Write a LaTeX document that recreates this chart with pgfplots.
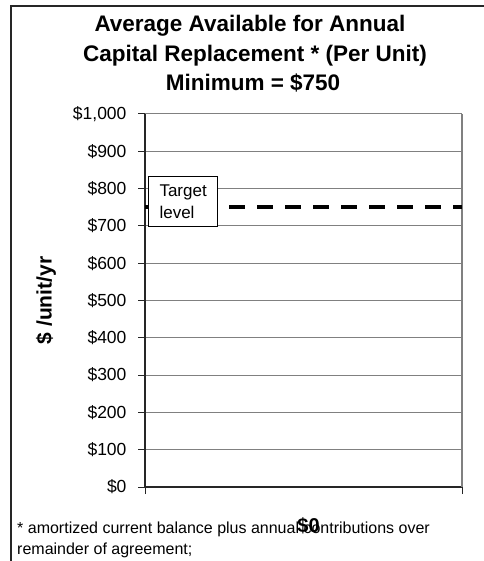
\documentclass[border=0pt]{standalone}
\usepackage{fontspec}
\setmainfont{Liberation Sans}
\usepackage{pgfplots}
\pgfplotsset{compat=1.18}
\begin{document}
\begin{tikzpicture}
\useasboundingbox (0,0) rectangle (483pt,-561pt);
% outer chart frame (top and left edges visible)
\draw[line width=1.5pt, black!85] (11pt,-600pt) -- (11pt,-6pt) -- (520pt,-6pt);
% title
\node[anchor=base, font=\fontsize{22.5}{26}\selectfont\bfseries] at (250pt,-32pt) {Average Available for Annual};
\node[anchor=base, font=\fontsize{22.5}{26}\selectfont\bfseries] at (255pt,-62pt) {Capital Replacement * (Per Unit)};
\node[anchor=base, font=\fontsize{22.5}{26}\selectfont\bfseries] at (253pt,-91pt) {Minimum = \$750};
\begin{axis}[
  at={(145pt,-487pt)}, anchor=south west,
  scale only axis, width=317pt, height=373pt,
  xmin=-0.5, xmax=0.5, ymin=0, ymax=1000,
  /pgf/number format/assume math mode=true,
  ytick={0,100,...,1000},
  yticklabels={\$0,\$100,\$200,\$300,\$400,\$500,\$600,\$700,\$800,\$900,{\$1,000}},
  xtick={-0.5,0.5}, xticklabels={,},
  axis x line*=bottom, axis y line*=left,
  axis line style={-, black!85, line width=1.4pt},
  tick align=outside, major tick length=7pt,
  tick style={black!85, line width=1pt},
  ymajorgrids, grid style={black!50, line width=1pt},
  yticklabel style={font=\fontsize{17.5}{20}\selectfont, xshift=-8pt},
  ylabel={\$ /unit/yr},
  ylabel style={font=\fontsize{21}{24}\selectfont\bfseries, at={(axis description cs:-0.312,0.5)}, anchor=center},
  clip=false,
]
\draw[black!50, line width=1.6pt] (rel axis cs:1,0) -- (rel axis cs:1,1);
\addplot[black, line width=4pt, dash pattern=on 16pt off 12pt] coordinates {(-0.5,750) (0.5,750)};
\addplot[ybar, bar width=40pt, draw=none, fill=none,
  nodes near coords={\$\pgfmathprintnumber{\pgfplotspointmeta}},
  every node near coord/.append style={anchor=center, yshift=-39pt, xshift=5pt, font=\fontsize{20}{24}\selectfont\bfseries, text=black}]
  coordinates {(0,0)};
\end{axis}
% target level annotation
\node[draw, fill=white, line width=1.3pt, anchor=north west, minimum width=69pt, minimum height=50pt, inner sep=0pt, align=left, font=\fontsize{17}{22}\selectfont] at (148pt,-176pt) {Target\\level};
% footnote
\node[anchor=base west, font=\fontsize{16}{19}\selectfont, inner sep=0pt] at (17pt,-533pt) {* amortized current balance plus annual contributions over};
\node[anchor=base west, font=\fontsize{16}{19}\selectfont, inner sep=0pt] at (17pt,-554pt) {remainder of agreement;};
\end{tikzpicture}
\end{document}
